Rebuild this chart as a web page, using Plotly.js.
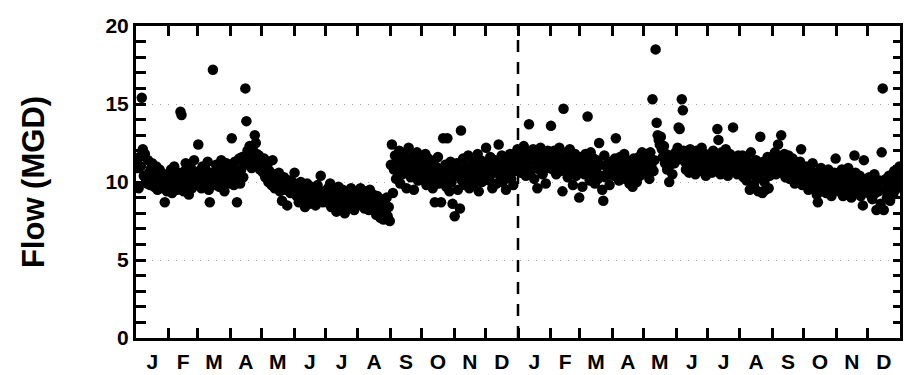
<!DOCTYPE html>
<html>
<head>
<meta charset="utf-8">
<script src="https://cdn.plot.ly/plotly-3.0.1.min.js"></script>
<style>html,body{margin:0;padding:0;background:#fff}#chart{width:906px;height:375px}</style>
</head>
<body>
<div id="chart"></div>
<script>
// Month labels and day counts (two consecutive years)
var monthLabels = ["J","F","M","A","M","J","J","A","S","O","N","D","J","F","M","A","M","J","J","A","S","O","N","D"];
var monthDays = [31,28,31,30,31,30,31,31,30,31,30,31,31,28,31,30,31,30,31,31,30,31,30,31];

// Daily flow (MGD), year 1
var jan1 = [11.3,10.9,9.6,11.6,11.0,15.4,12.1,10.4,11.8,10.2,9.9,11.4,10.6,9.8,10.9,11.2,10.1,9.7,10.5,11.0,9.5,10.3,10.8,9.9,10.6,9.6,10.2,8.7,10.0,9.4,10.4];
var feb1 = [10.1,9.6,10.8,9.3,10.4,11.0,9.8,10.2,9.5,10.6,9.9,14.5,14.3,10.3,9.4,10.7,11.2,9.7,10.0,9.2,10.5,10.9,9.6,10.1,11.4,10.3,9.8,10.6];
var mar1 = [12.4,10.7,10.2,9.6,11.0,10.5,9.9,10.8,10.3,11.3,9.5,8.7,10.1,10.6,17.2,10.4,9.8,11.1,10.2,10.9,9.7,10.5,11.4,10.0,10.7,9.4,10.3,11.2,10.6,9.9,10.8];
var apr1 = [10.4,12.8,10.9,9.8,11.3,10.2,8.7,10.6,11.5,9.9,10.8,11.6,10.3,11.1,16.0,13.9,12.0,11.4,12.3,11.7,10.9,12.1,11.5,13.0,12.5,11.8,11.2,11.7,10.8,11.4];
var may1 = [11.2,10.6,11.5,10.3,10.9,11.1,10.0,10.7,10.4,9.8,11.4,10.2,9.6,10.5,10.1,9.9,10.6,9.4,10.2,8.8,9.7,10.3,9.5,9.9,8.5,9.8,10.1,9.3,9.6,10.0,9.4];
var jun1 = [10.6,9.4,9.1,9.8,8.7,9.5,10.0,9.2,8.9,9.6,8.4,9.3,9.9,9.0,8.6,9.4,9.7,8.8,9.1,9.5,8.5,9.2,9.8,8.9,9.3,10.4,9.0,8.7,9.4,9.1];
var jul1 = [9.2,8.7,9.6,8.9,9.9,8.4,9.1,9.4,8.6,9.0,8.1,9.3,9.7,8.8,9.2,8.3,9.5,9.0,8.0,8.7,9.4,8.9,9.2,8.5,9.6,8.8,9.1,8.2,9.3,8.6,9.0];
var aug1 = [9.3,8.8,9.6,8.5,9.1,8.9,8.3,9.4,8.7,9.0,8.2,9.5,8.6,8.9,9.2,8.4,8.8,7.9,9.1,8.5,8.7,7.7,8.9,8.3,7.6,8.6,8.1,9.0,7.8,8.4,7.5];
var sep1 = [11.1,12.4,9.3,10.8,11.7,10.2,11.4,10.6,12.0,9.9,11.2,10.5,11.8,10.9,11.5,9.6,10.7,12.2,11.0,10.3,11.6,10.8,9.5,11.3,10.4,11.9,10.1,11.0,10.6,11.4];
var oct1 = [10.6,11.3,10.1,11.8,9.8,10.9,11.5,10.4,10.0,11.2,9.6,10.7,8.7,11.0,10.3,11.6,9.9,10.5,8.7,10.8,12.8,10.2,11.1,9.7,12.8,10.6,9.4,11.3,10.0,8.6,10.9];
var nov1 = [7.8,10.4,11.2,9.5,10.8,8.3,13.3,10.1,11.5,10.6,9.8,11.0,10.3,11.7,9.6,10.9,10.5,11.3,9.9,10.7,11.1,10.2,11.8,9.4,10.6,11.4,10.0,10.8,11.2,10.4];
var dec1 = [12.2,10.8,11.3,10.1,11.6,10.5,9.6,11.0,10.7,11.4,9.9,10.6,12.4,11.2,10.3,11.7,10.0,10.9,11.5,9.5,10.8,11.1,10.4,11.8,10.2,11.3,9.8,10.7,11.6,11.0,12.1];
// Daily flow (MGD), year 2
var jan2 = [11.2,12.0,10.6,11.5,10.9,12.3,11.1,10.4,11.8,11.3,13.7,11.9,10.7,11.4,12.1,10.2,11.6,11.0,9.6,11.7,10.8,12.2,11.3,10.5,11.8,11.1,9.9,11.5,12.0,10.9,11.4];
var feb2 = [13.6,11.5,10.8,12.0,11.2,10.5,11.7,11.0,12.2,10.7,11.4,9.4,14.7,11.6,10.9,11.9,10.3,11.3,12.1,10.6,11.5,9.8,11.1,11.8,10.4,11.0,11.6,9.0];
var mar2 = [10.9,11.6,9.7,11.2,10.5,11.8,10.8,14.2,11.3,10.1,11.9,10.6,11.0,11.5,9.9,10.7,11.4,10.2,12.5,11.1,10.4,9.5,8.8,11.7,10.3,11.0,10.6,11.3,9.8,10.9,11.2];
var apr2 = [11.0,10.4,11.5,12.8,10.7,11.2,10.1,11.6,10.9,11.3,10.5,11.8,10.2,11.0,11.4,10.6,9.9,11.1,10.8,9.7,11.5,10.3,11.2,10.0,10.7,11.6,10.4,11.1,11.9,10.8];
var may2 = [11.3,10.6,11.8,10.9,11.5,10.2,11.9,11.0,15.3,10.7,11.4,18.5,13.8,13.0,12.7,12.4,12.9,12.1,11.6,12.3,11.2,11.8,10.8,11.5,10.0,11.1,11.7,10.5,11.6,11.2,11.9];
var jun2 = [11.4,12.2,13.5,13.4,11.7,15.3,14.6,12.0,11.3,10.8,11.9,11.5,10.6,12.1,11.2,10.9,11.7,11.4,10.5,12.0,11.1,11.6,10.7,11.3,12.2,10.9,11.5,11.8,10.4,11.2];
var jul2 = [11.5,10.9,11.8,11.2,10.6,12.0,11.4,10.8,11.7,13.4,12.7,11.1,10.5,11.9,11.3,10.7,11.6,12.1,11.0,10.4,11.5,11.8,10.9,11.2,13.5,11.6,10.8,11.3,10.5,11.7,11.0];
var aug2 = [11.2,10.6,11.7,10.3,11.0,11.5,10.1,10.8,11.3,9.5,11.9,10.5,11.1,9.8,10.7,11.4,10.2,9.4,11.0,12.9,10.6,9.3,11.3,10.0,9.5,10.8,11.6,9.6,10.4,11.1,10.7];
var sep2 = [11.4,10.8,11.9,10.5,11.2,12.4,10.9,11.6,13.0,11.1,10.6,11.8,10.3,11.4,10.9,11.7,10.2,11.0,10.7,11.5,10.4,9.9,11.1,10.6,10.0,10.8,11.3,12.1,9.8,10.5];
var oct2 = [10.4,9.8,11.0,10.1,9.5,10.7,9.9,10.3,11.2,9.6,10.0,10.6,9.2,8.7,10.4,9.7,10.9,9.4,10.2,9.8,10.5,9.3,10.0,10.8,9.6,10.3,9.1,10.1,9.7,10.6,11.5];
var nov2 = [9.9,10.5,9.4,10.2,9.7,10.8,9.1,10.0,9.6,10.4,9.2,10.9,9.8,10.3,9.0,10.1,9.5,11.7,10.6,9.3,10.0,9.7,10.4,9.1,9.8,8.5,11.4,9.6,10.2,9.4];
var dec2 = [9.7,10.3,9.2,10.0,8.9,9.6,10.5,9.3,8.2,9.9,9.4,10.1,8.6,11.9,16.0,8.2,9.5,10.2,9.0,9.8,10.4,8.8,9.6,10.0,9.2,10.7,9.5,10.3,9.9,10.8,11.0];

var months = [jan1,feb1,mar1,apr1,may1,jun1,jul1,aug1,sep1,oct1,nov1,dec1,
              jan2,feb2,mar2,apr2,may2,jun2,jul2,aug2,sep2,oct2,nov2,dec2];

// Build x (day index) and y from the monthly arrays
var xs = [], ys = [], starts = [0];
for (var m = 0; m < months.length; m++) starts.push(starts[m] + monthDays[m]);
for (var m = 0; m < months.length; m++) {
  var arr = months[m];
  for (var i = 0; i < arr.length; i++) {
    xs.push(starts[m] + (i + 0.5) * monthDays[m] / arr.length);
    ys.push(arr[i]);
  }
}
var total = starts[starts.length - 1];
var yearEnd = starts[12];
var boundaries = starts.slice(1, starts.length - 1);
var mids = [];
for (var m = 0; m < monthDays.length; m++) mids.push(starts[m] + monthDays[m] / 2);

var F = "Arial, 'Liberation Sans', sans-serif";

var trace = {
  x: xs, y: ys, type: 'scatter', mode: 'markers',
  marker: {color: '#000', size: 10.5, line: {width: 0}},
  hoverinfo: 'skip', showlegend: false
};
// invisible copies so the overlay axes (top, right, label axis) get drawn
function ghost(xa, ya) {
  return {x: xs, y: ys, xaxis: xa, yaxis: ya, type: 'scatter', mode: 'markers',
          marker: {color: 'rgba(0,0,0,0)', size: 1}, hoverinfo: 'skip', showlegend: false};
}

var layout = {
  width: 906, height: 375,
  margin: {l: 136, r: 6, t: 26, b: 37},
  paper_bgcolor: '#fff', plot_bgcolor: '#fff',
  showlegend: false,
  xaxis: {
    range: [0, total], showline: true, linecolor: '#000', linewidth: 3,
    tickmode: 'array', tickvals: boundaries,
    ticks: 'inside', ticklen: 10, tickwidth: 3, tickcolor: '#000',
    showticklabels: false, showgrid: false, zeroline: false, fixedrange: true
  },
  xaxis2: {
    overlaying: 'x', side: 'top', range: [0, total],
    showline: true, linecolor: '#000', linewidth: 3,
    tickmode: 'array', tickvals: boundaries,
    ticks: 'inside', ticklen: 10, tickwidth: 3, tickcolor: '#000',
    showticklabels: false, showgrid: false, zeroline: false
  },
  xaxis3: {
    overlaying: 'x', side: 'bottom', range: [0, total],
    showline: false, tickmode: 'array', tickvals: mids, ticktext: monthLabels,
    ticks: '', showgrid: false, zeroline: false, ticklabelstandoff: 9,
    tickfont: {family: F, size: 21, color: '#000', weight: 700}
  },
  yaxis: {
    range: [0, 20], showline: true, linecolor: '#000', linewidth: 3,
    tickmode: 'linear', tick0: 0, dtick: 5,
    ticks: 'inside', ticklen: 10, tickwidth: 3, tickcolor: '#000',
    tickfont: {family: F, size: 21, color: '#000', weight: 700},
    showgrid: true, gridcolor: '#a8a8a8', gridwidth: 1, griddash: '1px,7px',
    minor: {dtick: 1, ticks: 'inside', ticklen: 10, tickwidth: 3, tickcolor: '#000', showgrid: false},
    zeroline: false, fixedrange: true,
    title: {text: 'Flow (MGD)', font: {family: F, size: 31, color: '#000', weight: 700}, standoff: 52}
  },
  yaxis2: {
    overlaying: 'y', side: 'right', range: [0, 20],
    showline: true, linecolor: '#000', linewidth: 3,
    tickmode: 'linear', tick0: 0, dtick: 1,
    ticks: 'inside', ticklen: 7, tickwidth: 3, tickcolor: '#000',
    showticklabels: false, showgrid: false, zeroline: false
  },
  shapes: [{
    type: 'line', xref: 'x', yref: 'paper', x0: yearEnd, x1: yearEnd, y0: 0, y1: 1,
    line: {color: '#000', width: 2.5, dash: '12px,10px'}
  }]
};

Plotly.newPlot('chart', [ghost('x2','y2'), ghost('x3','y'), trace], layout, {displayModeBar: false, staticPlot: true});
</script>
</body>
</html>
